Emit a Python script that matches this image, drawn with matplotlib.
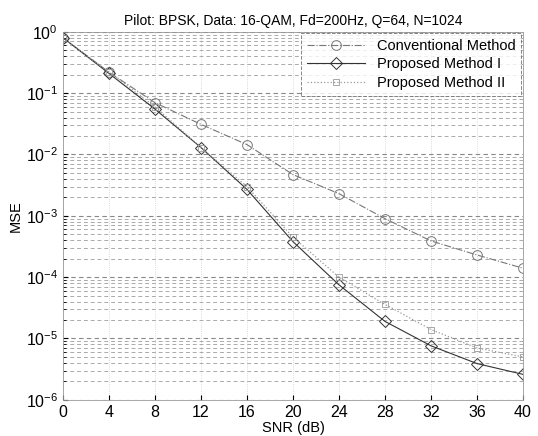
import matplotlib
matplotlib.use("Agg")
import matplotlib.pyplot as plt
import numpy as np

snr = [0, 4, 8, 12, 16, 20, 24, 28, 32, 36, 40]
mse_conv = [0.8, 0.22, 0.07, 0.031, 0.0145, 0.0047, 0.0023, 9e-4, 3.9e-4, 2.3e-4, 1.4e-4]
mse_prop1 = [0.8, 0.21, 0.055, 0.013, 0.0027, 3.8e-4, 7.5e-5, 1.9e-5, 7.6e-6, 3.9e-6, 2.6e-6]
mse_prop2 = [0.8, 0.22, 0.06, 0.013, 0.003, 4.5e-4, 1.0e-4, 3.6e-5, 1.4e-5, 7e-6, 5e-6]

plt.rcParams['font.family'] = ['Liberation Sans', 'DejaVu Sans']

fig = plt.figure(figsize=(5.38, 4.36), dpi=100)
ax = fig.add_axes([0.117, 0.083, 0.855, 0.844])

ax.semilogy(snr, mse_conv, color='#777777', linestyle='-.', linewidth=0.8,
            marker='o', markersize=7, markerfacecolor='none', markeredgecolor='#777777',
            markeredgewidth=0.7, label='Conventional Method')
ax.semilogy(snr, mse_prop1, color='#333333', linestyle='-', linewidth=0.8,
            marker='D', markersize=6, markerfacecolor='none', markeredgecolor='#333333',
            markeredgewidth=0.7, label='Proposed Method I')
ax.semilogy(snr, mse_prop2, color='#999999', linestyle=':', linewidth=0.9,
            marker='s', markersize=4, markerfacecolor='none', markeredgecolor='#999999',
            markeredgewidth=0.6, label='Proposed Method II')

ax.set_xlim(0, 40)
ax.set_ylim(1e-6, 1)
ax.set_xticks(np.arange(0, 41, 4))
ax.set_yticks([1e-6, 1e-5, 1e-4, 1e-3, 1e-2, 1e-1, 1])
ax.grid(True, which='major', axis='y', color='#888888', linestyle=(0, (4, 3)), linewidth=0.8)
ax.grid(True, which='minor', axis='y', color='#aaaaaa', linestyle=(0, (4, 3)), linewidth=0.7)
ax.grid(True, which='major', axis='x', color='#cccccc', linestyle=':', linewidth=0.6)
ax.tick_params(which='both', direction='in', labelsize=11.5)
ax.tick_params(which='minor', length=2)

for s in ax.spines.values():
    s.set_linewidth(0.6)
    s.set_color('#999999')

ax.set_title('Pilot: BPSK, Data: 16-QAM, Fd=200Hz, Q=64, N=1024', fontsize=10, pad=5)
ax.set_xlabel('SNR (dB)', fontsize=10.5, labelpad=1)
ax.set_ylabel('MSE', fontsize=10.5, labelpad=2)

leg = ax.legend(loc='upper right', fontsize=10.5, frameon=True, fancybox=False,
                borderaxespad=0.1, handlelength=4, labelspacing=0.3)
leg.get_frame().set_edgecolor('#666666')
leg.get_frame().set_linestyle('--')
leg.get_frame().set_linewidth(0.7)

fig.savefig('out.png', dpi=100)
